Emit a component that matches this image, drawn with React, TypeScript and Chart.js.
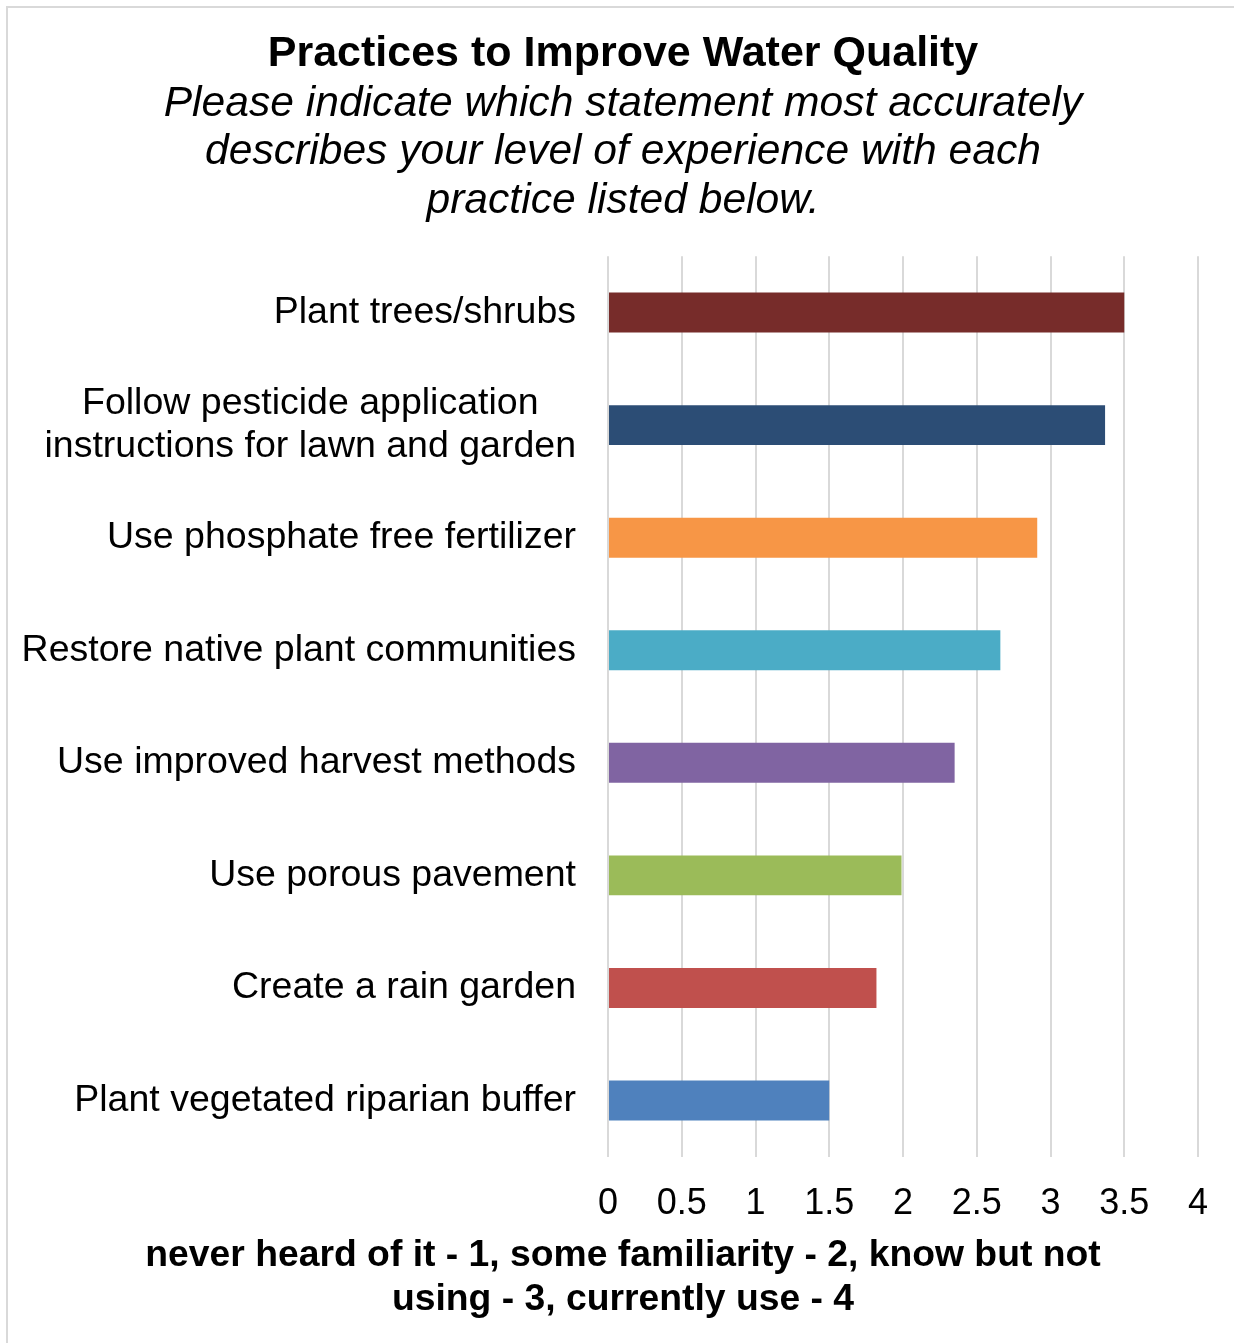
import React, { useEffect, useRef } from "react";
import { Chart, registerables } from "chart.js";

Chart.register(...registerables);

const FONT = '"Liberation Sans", Arial, Helvetica, sans-serif';

// Survey practices, top to bottom
const practices: (string | string[])[] = [
  "Plant trees/shrubs",
  ["Follow pesticide application", "instructions for lawn and garden"],
  "Use phosphate free fertilizer",
  "Restore native plant communities",
  "Use improved harvest methods",
  "Use porous pavement",
  "Create a rain garden",
  "Plant vegetated riparian buffer",
];

// Mean experience score for each practice
const meanScores = [3.5, 3.37, 2.91, 2.66, 2.35, 1.99, 1.82, 1.5];

const barColors = [
  "#772C2A",
  "#2C4D75",
  "#F79646",
  "#4BACC6",
  "#8064A2",
  "#9BBB59",
  "#C0504D",
  "#4F81BD",
];

const scaleMin = 0;
const scaleMax = 4;
const scaleStep = 0.5;

const titleText = "Practices to Improve Water Quality";
const subtitleLines = [
  "Please indicate which statement most accurately",
  "describes your level of experience with each",
  "practice listed below.",
];
const axisTitleLines = [
  "never heard of it - 1, some familiarity - 2, know but not",
  "using - 3, currently use - 4",
];

const LABEL_FONT_SIZE = 37.5;
const AXIS_TITLE_SIZE = 37.3;
const AXIS_TITLE_LINE = 44;
// Width reserved for the category axis; long labels run into the left margin
const CATEGORY_AXIS_WIDTH = 560;

// Pads the shorter lines of a multi-line label so the block reads centred
// while the axis keeps its right alignment.
function centreLines(lines: string[], font: string): string[] {
  const ctx = document.createElement("canvas").getContext("2d");
  if (!ctx) return lines;
  ctx.font = font;
  const widths = lines.map((l) => ctx.measureText(l).width);
  const maxW = Math.max(...widths);
  const space = "\u2002";
  const spaceW = ctx.measureText(space).width || 1;
  return lines.map((l, i) => {
    const n = Math.round((maxW - widths[i]) / 2 / spaceW);
    return l + space.repeat(n);
  });
}

// Lets the category labels use the left margin instead of being clipped
const categoryLabelRoom = {
  id: "categoryLabelRoom",
  afterLayout(chart: Chart) {
    const y = chart.scales.y;
    if (y) y.left = 0;
  },
};

// Two-line axis caption centred under the whole chart
const axisTitleBelow = {
  id: "axisTitleBelow",
  afterDraw(chart: Chart) {
    const { ctx } = chart;
    ctx.save();
    ctx.font = `bold ${AXIS_TITLE_SIZE}px ${FONT}`;
    ctx.fillStyle = "#000000";
    ctx.textAlign = "center";
    ctx.textBaseline = "middle";
    const firstY = chart.height - 87;
    axisTitleLines.forEach((line, i) => {
      ctx.fillText(line, chart.width / 2 + 2, firstY + i * AXIS_TITLE_LINE);
    });
    ctx.restore();
  },
};

export default function App() {
  const canvasRef = useRef<HTMLCanvasElement | null>(null);

  useEffect(() => {
    const canvas = canvasRef.current;
    if (!canvas) return;
    const labelFont = `${LABEL_FONT_SIZE}px ${FONT}`;
    const labels = practices.map((p) =>
      Array.isArray(p) ? centreLines(p, labelFont) : p
    );

    const chart = new Chart(canvas, {
      type: "bar",
      data: {
        labels,
        datasets: [
          {
            data: meanScores,
            backgroundColor: barColors,
            borderWidth: 0,
            categoryPercentage: 1,
            barPercentage: 0.355,
          },
        ],
      },
      plugins: [categoryLabelRoom, axisTitleBelow],
      options: {
        indexAxis: "y",
        responsive: false,
        animation: false,
        layout: {
          padding: { left: 40, right: 36, top: 0, bottom: 92 },
        },
        plugins: {
          legend: { display: false },
          tooltip: { enabled: false },
          title: {
            display: true,
            text: titleText,
            color: "#000000",
            font: { family: FONT, size: 43, weight: "bold", lineHeight: 1.2 },
            padding: { top: 20, bottom: 0 },
          },
          subtitle: {
            display: true,
            text: subtitleLines,
            color: "#000000",
            font: { family: FONT, size: 42.6, style: "italic", lineHeight: 1.14 },
            padding: { top: 0, bottom: 31 },
          },
        },
        scales: {
          x: {
            min: scaleMin,
            max: scaleMax,
            border: { display: false },
            grid: {
              color: "#d9d9d9",
              lineWidth: 2,
              drawTicks: false,
            },
            ticks: {
              stepSize: scaleStep,
              color: "#000000",
              padding: 25.5,
              font: { family: FONT, size: 36 },
              callback: (value) => String(Number(value)),
            },
          },
          y: {
            border: { display: false },
            grid: { display: false, drawTicks: false },
            afterFit: (scale) => {
              scale.width = CATEGORY_AXIS_WIDTH;
            },
            ticks: {
              color: "#000000",
              padding: 32,
              autoSkip: false,
              font: { family: FONT, size: LABEL_FONT_SIZE, lineHeight: 1.17 },
            },
          },
        },
      },
    });

    return () => chart.destroy();
  }, []);

  return (
    <div
      style={{
        position: "fixed",
        top: 6,
        left: 6,
        width: 1228,
        height: 1337,
        boxSizing: "border-box",
        borderTop: "2px solid #d9d9d9",
        borderLeft: "2px solid #d9d9d9",
        background: "#ffffff",
        overflow: "hidden",
      }}
    >
      <canvas ref={canvasRef} width={1226} height={1335} style={{ display: "block" }} />
    </div>
  );
}
